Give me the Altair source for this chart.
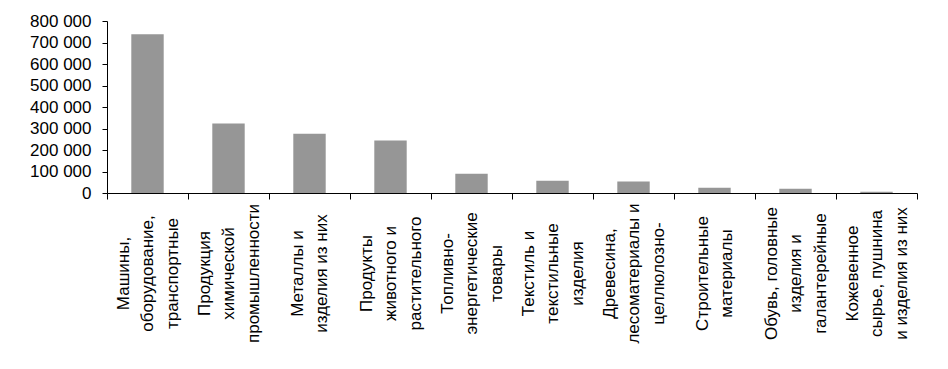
import altair as alt
import pandas as pd

categories = [
    "Машины,|оборудование,|транспортные",
    "Продукция|химической|промышленности",
    "Металлы и|изделия из них",
    "Продукты|животного и|растительного",
    "Топливно-|энергетические|товары",
    "Текстиль и|текстильные|изделия",
    "Древесина,|лесоматериалы и|целлюлозно-",
    "Строительные|материалы",
    "Обувь, головные|изделия и|галантерейные",
    "Кожевенное|сырье, пушнина|и изделия из них",
]
values = [738000, 323000, 276000, 244000, 90000, 57000, 53000, 25000, 20000, 6000]
y_ticks = [0, 100000, 200000, 300000, 400000, 500000, 600000, 700000, 800000]

df = pd.DataFrame({"cat": categories, "val": values})

FONT = "Liberation Sans"
LH = 24.5

chart = alt.Chart(df).mark_bar(color="#969696", width=alt.RelativeBandSize(0.4)).encode(
    x=alt.X(
        "cat:N",
        sort=categories,
        scale=alt.Scale(paddingInner=0, paddingOuter=0),
        axis=alt.Axis(
            title=None,
            labelAngle=270,
            labelAlign="center",
            labelBaseline="middle",
            labelPadding=74,
            labelOffset={
                "condition": {
                    "test": "length(split(datum.label, '|')) == 2",
                    "value": -LH / 2,
                },
                "value": -LH,
            },
            labelExpr="split(datum.label, '|')",
            labelLineHeight=LH,
            labelFont=FONT,
            labelFontSize=17,
            labelColor="black",
            labelLimit=400,
            tickBand="extent",
            tickSize=6,
            tickColor="black",
            domainColor="black",
            labelOverlap=False,
        ),
    ),
    y=alt.Y(
        "val:Q",
        scale=alt.Scale(domain=[0, 800000], nice=False),
        axis=alt.Axis(
            title=None,
            values=y_ticks,
            labelExpr="datum.value == 0 ? '0' : format(datum.value / 1000, 'd') + ' 000'",
            labelFont=FONT,
            labelFontSize=17,
            labelColor="black",
            labelPadding=11,
            tickSize=5,
            tickColor="black",
            domainColor="black",
            grid=False,
        ),
    ),
).properties(
    width=810,
    height=172,
    autosize=alt.AutoSizeParams(type="none"),
    padding={"left": 99, "top": 13, "right": 20, "bottom": 160},
).configure_view(stroke=None)

chart.save("out.html", embed_options={"renderer": "svg", "actions": False})
